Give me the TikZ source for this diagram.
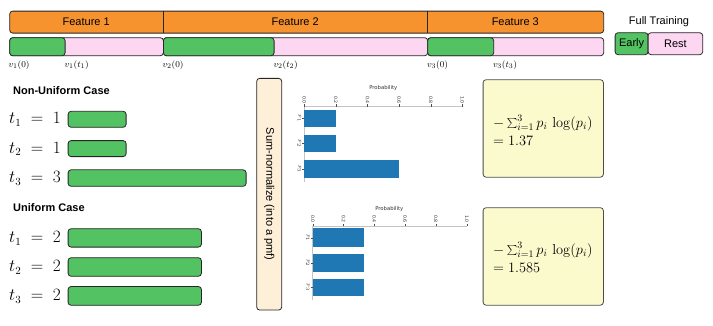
\documentclass[tikz,border=0pt]{standalone}
\usepackage[no-math]{fontspec}
\setmainfont{Liberation Sans}
\newfontfamily\plotfont{DejaVu Sans}
\definecolor{orangeF}{HTML}{F7932F}
\definecolor{greenE}{HTML}{53C263}
\definecolor{pinkR}{HTML}{FDD6F2}
\definecolor{yellowB}{HTML}{FBFACD}
\definecolor{beigeN}{HTML}{FDEFD8}
\definecolor{barblue}{HTML}{1F77B4}
\definecolor{axgray}{HTML}{C4C4C4}
\begin{document}
\begin{tikzpicture}[x=1pt,y=-1pt,
  box/.style={draw=black!85, line width=0.8pt, rounded corners=3pt, inner sep=0pt, anchor=north west, minimum width=#1},
  gbox/.style={box=#1, fill=greenE},
  pbox/.style={box=#1, fill=pinkR},
  lbl/.style={inner sep=0pt, font=\fontsize{11}{13}\selectfont},
  vlbl/.style={inner sep=0pt, anchor=west, font=\fontsize{9.5}{11}\selectfont},
  tlbl/.style={inner sep=0pt, anchor=east, font=\fontsize{16}{18}\selectfont},
  head/.style={inner sep=0pt, anchor=west, font=\fontsize{11}{13}\selectfont\bfseries},
  ybox/.style={box=120.3pt, fill=yellowB, draw=black!70, minimum height=97.5pt},
  ytxt/.style={inner sep=0pt, anchor=west, align=left, font=\fontsize{14}{18.5}\selectfont},
  ax/.style={axgray, line width=0.7pt},
  tk/.style={black!70, line width=0.4pt},
  ticklbl/.style={inner sep=0.6pt, rotate=-90, font=\plotfont\fontsize{4.6}{5}\selectfont, text=black!80},
  axtitle/.style={inner sep=0pt, font=\plotfont\fontsize{5.3}{6}\selectfont, text=black!80}
]
\useasboundingbox (0,0) rectangle (713,325);

% ---- top feature bar
\node[box=594pt, fill=orangeF, minimum height=22pt] (topbar) at (9.3,10.7) {};
\draw[black!85, line width=0.8pt] (163,10.7) coordinate (d1a) -- (163,32.7) coordinate (d1b);
\draw[black!85, line width=0.8pt] (427.3,10.7) coordinate (d2a) -- (427.3,32.7) coordinate (d2b);
\node[lbl] (f1) at (86.2,21.7) {Feature 1};
\node[lbl] (f2) at (295.2,21.7) {Feature 2};
\node[lbl] (f3) at (515.3,21.7) {Feature 3};

% ---- lower bar segments
\node[pbox=153.7pt, minimum height=18pt] (s1) at (9.3,37.3) {};
\node[pbox=264.3pt, minimum height=18pt] (s2) at (163,37.3) {};
\node[pbox=176pt, minimum height=18pt] (s3) at (427.3,37.3) {};
\node[gbox=55.4pt, minimum height=18pt] (g1) at (9.3,37.3) {};
\node[gbox=110.7pt, minimum height=18pt] (g2) at (163,37.3) {};
\node[gbox=66pt, minimum height=18pt] (g3) at (427.3,37.3) {};

\node[vlbl] (v10) at (8.5,64.8) {$v_1(0)$};
\node[vlbl] (v1t) at (64.5,64.8) {$v_1(t_1)$};
\node[vlbl] (v20) at (162.5,64.8) {$v_2(0)$};
\node[vlbl] (v2t) at (273.5,64.8) {$v_2(t_2)$};
\node[vlbl] (v30) at (427,64.8) {$v_3(0)$};
\node[vlbl] (v3t) at (492.8,64.8) {$v_3(t_3)$};

% ---- full training legend
\node[lbl] (ft) at (659,22) {Full Training};
\node[gbox=33pt, minimum height=22pt, font=\fontsize{11}{13}\selectfont] (early) at (614.7,32.3) {Early};
\node[pbox=54.6pt, minimum height=22pt, font=\fontsize{11}{13}\selectfont] (rest) at (647.7,32.3) {Rest};

% ---- non-uniform case
\node[head] (nu) at (13,90.7) {Non-Uniform Case};
\node[tlbl] (nt1) at (61,119.5) {$t_1 \;=\; 1$};
\node[tlbl] (nt2) at (61,148.8) {$t_2 \;=\; 1$};
\node[tlbl] (nt3) at (61,178.2) {$t_3 \;=\; 3$};
\node[gbox=58pt, minimum height=16pt] (nb1) at (67.7,110.9) {};
\node[gbox=58pt, minimum height=16pt] (nb2) at (67.7,140.2) {};
\node[gbox=178pt, minimum height=16.5pt] (nb3) at (67.7,169.4) {};

% ---- uniform case
\node[head] (un) at (13,207.3) {Uniform Case};
\node[tlbl] (ut1) at (61,238.2) {$t_1 \;=\; 2$};
\node[tlbl] (ut2) at (61,267.3) {$t_2 \;=\; 2$};
\node[tlbl] (ut3) at (61,296.3) {$t_3 \;=\; 2$};
\node[gbox=133.3pt, minimum height=18.4pt] (ub1) at (67.7,228.3) {};
\node[gbox=133.3pt, minimum height=18.6pt] (ub2) at (67.7,257.3) {};
\node[gbox=133.3pt, minimum height=18.8pt] (ub3) at (67.7,286.1) {};

% ---- sum-normalize
\node[draw=black!85, line width=0.8pt, rounded corners=3pt, fill=beigeN, rotate=-90,
      minimum width=231.7pt, minimum height=25pt, inner sep=0pt,
      font=\fontsize{11}{13}\selectfont] (sn) at (269.2,194.2) {Sum-normalize (into a pmf)};

% ---- chart 1 (non-uniform)
\node[axtitle] (c1t) at (383.3,88.5) {Probability};
\draw[ax] (304.3,106.7) coordinate (c1o) -- (462.3,106.7) coordinate (c1e);
\draw[ax] (c1o) -- (304.3,181.7) coordinate (c1b);
\foreach \v/\l [count=\i] in {0/0.0,0.2/0.2,0.4/0.4,0.6/0.6,0.8/0.8,1/1.0}{
  \draw[tk] (304.3+158*\v,106.7) -- (304.3+158*\v,104.4) node[ticklbl, anchor=east] (c1x\i) {\l};
}
\foreach \y/\h/\w [count=\i] in {110/17.3/0.2, 135/17.3/0.2, 160/17.7/0.6}{
  \fill[barblue] (304.3,\y) rectangle (304.3+158*\w,\y+\h);
  \draw[tk] (304.3,\y+\h/2) -- (302.2,\y+\h/2) node[ticklbl, anchor=north] (c1p\i) {$p_{\i}$};
}

% ---- chart 2 (uniform)
\node[axtitle] (c2t) at (389.3,208.6) {Probability};
\draw[ax] (312.7,226) coordinate (c2o) -- (466.7,226) coordinate (c2e);
\draw[ax] (c2o) -- (312.7,300) coordinate (c2b);
\foreach \v/\l [count=\i] in {0/0.0,0.2/0.2,0.4/0.4,0.6/0.6,0.8/0.8,1/1.0}{
  \draw[tk] (312.7+154*\v,226) -- (312.7+154*\v,223.7) node[ticklbl, anchor=east] (c2x\i) {\l};
}
\foreach \y/\h [count=\i] in {228.3/19, 254.3/17.4, 279/16.7}{
  \fill[barblue] (312.7,\y) rectangle (312.7+154*0.3333,\y+\h);
  \draw[tk] (312.7,\y+\h/2) -- (310.6,\y+\h/2) node[ticklbl, anchor=north] (c2p\i) {$p_{\i}$};
}

% ---- entropy boxes
\node[ybox] (e1) at (482.7,79.3) {};
\node[ytxt] (e1t) at (493,130.5) {$-\sum_{i=1}^{3} p_i\,\log(p_i)$\\$=1.37$};
\node[ybox] (e2) at (482.7,207.3) {};
\node[ytxt] (e2t) at (493,257.6) {$-\sum_{i=1}^{3} p_i\,\log(p_i)$\\$=1.585$};
\end{tikzpicture}
\end{document}
